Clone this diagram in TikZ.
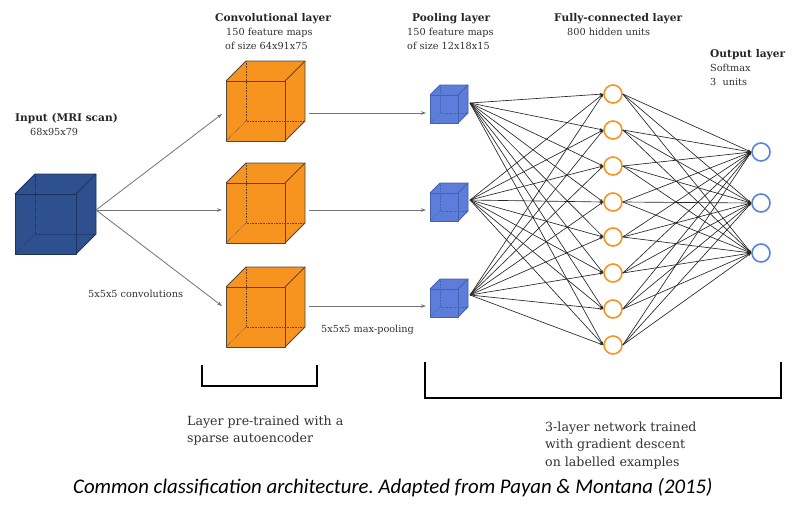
\documentclass[tikz,border=0pt]{standalone}
\usepackage{fontspec}
\setmainfont{DejaVu Serif}
\newfontfamily\capfont{Carlito}
\usetikzlibrary{arrows.meta}
\frenchspacing
\definecolor{inblue}{RGB}{46,80,142}
\definecolor{inedge}{RGB}{30,50,95}
\definecolor{convor}{RGB}{247,148,32}
\definecolor{convedge}{RGB}{80,70,60}
\definecolor{poolblue}{RGB}{92,125,218}
\definecolor{pooledge}{RGB}{70,95,175}
\definecolor{hidor}{RGB}{247,148,32}
\definecolor{outblue}{RGB}{90,130,222}
\definecolor{txtgray}{RGB}{50,50,50}
% #1 x, #2 y (front top-left), #3 w, #4 h, #5 depth, #6 fill, #7 edge
\newcommand{\drawcube}[7]{%
  \fill[#6] (#1,#2) ++(0,#4) -- ++(0,-#4) -- ++(#5,-#5) -- ++(#3,0) -- ++(0,#4) -- ++(-#5,#5) -- cycle;
  \draw[#7,densely dotted,line width=0.6pt] (#1,#2) ++(#5,-#5) -- ++(0,#4) -- ++(#3,0);
  \draw[#7,densely dotted,line width=0.6pt] (#1,#2) ++(0,#4) -- ++(#5,-#5);
  \draw[#7,line width=0.8pt,line join=round] (#1,#2) rectangle ++(#3,#4);
  \draw[#7,line width=0.8pt,line join=round] (#1,#2) -- ++(#5,-#5) -- ++(#3,0) -- ++(0,#4) -- ++(-#5,#5);
  \draw[#7,line width=0.8pt] (#1,#2) ++(#3,0) -- ++(#5,-#5);
}
\begin{document}
\begin{tikzpicture}[x=1pt,y=-1pt,
  lbl/.style={inner sep=0pt,anchor=base west,text=txtgray,font=\fontsize{9.7}{11}\selectfont},
  head/.style={inner sep=0pt,anchor=base west,text=black!85,font=\fontsize{10.6}{12}\selectfont\bfseries},
  bot/.style={inner sep=0pt,anchor=base west,text=txtgray,font=\fontsize{12.6}{14}\selectfont},
  garrow/.style={draw=black!55,line width=0.8pt,-{Stealth[length=5pt,width=3.5pt]}},
  net/.style={draw=black!85,line width=0.65pt,-{Stealth[length=3.5pt,width=2.5pt]}},
  hid/.style={circle,draw=hidor,line width=1.6pt,minimum size=18pt,inner sep=0pt},
  outn/.style={circle,draw=outblue,line width=1.6pt,minimum size=18pt,inner sep=0pt},
  brk/.style={draw=black,line width=2.2pt}]
\useasboundingbox (0,0) rectangle (799,517);
\fill[white] (0,0) rectangle (799,517);

% cubes
\drawcube{15}{194}{61}{60}{20}{inblue}{inedge}
\drawcube{226}{81}{59}{60}{20}{convor}{convedge}
\drawcube{226}{183}{59}{60}{20}{convor}{convedge}
\drawcube{226}{287}{59}{60}{20}{convor}{convedge}
\drawcube{430}{95}{28}{28}{10}{poolblue}{pooledge}
\drawcube{430}{193}{28}{28}{10}{poolblue}{pooledge}
\drawcube{430}{289}{28}{28}{10}{poolblue}{pooledge}

% connector end points
\coordinate (inR) at (96,210);
\coordinate (c1L) at (222,114);
\coordinate (c2L) at (222,210);
\coordinate (c3L) at (222,306);
\coordinate (c1R) at (309,113);
\coordinate (c2R) at (309,210);
\coordinate (c3R) at (309,306);
\coordinate (p1L) at (426,113);
\coordinate (p2L) at (426,210);
\coordinate (p3L) at (426,306);
\coordinate (p1) at (470,103);
\coordinate (p2) at (470,200);
\coordinate (p3) at (470,295);

% hidden and output units
\foreach \i/\y in {1/94,2/130,3/166,4/202,5/237,6/273,7/309,8/345}
  \node[hid] (h\i) at (613,\y) {};
\foreach \i/\y in {1/152,2/203,3/253}
  \node[outn] (o\i) at (761,\y) {};

% grey arrows
\draw[garrow] (inR) -- (c1L);
\draw[garrow] (inR) -- (c2L);
\draw[garrow] (inR) -- (c3L);
\draw[garrow] (c1R) -- (p1L);
\draw[garrow] (c2R) -- (p2L);
\draw[garrow] (c3R) -- (p3L);

% network connections
\foreach \p in {p1,p2,p3}
  \foreach \i in {1,...,8}
    \draw[net] (\p) -- (h\i.west);
\foreach \i in {1,...,8}
  \foreach \j in {1,2,3}
    \draw[net] (h\i.east) -- (o\j.west);

% labels
\node[head] (tin) at (15,121) {Input (MRI scan)};
\node[lbl] (tin2) at (30,135) {68x95x79};
\node[head] (tconv) at (215,21) {Convolutional layer};
\node[lbl] (tconv2) at (226,35) {150 feature maps};
\node[lbl] (tconv3) at (225,49) {of size 64x91x75};
\node[head] (tpool) at (412,21) {Pooling layer};
\node[lbl] (tpool2) at (407,35) {150 feature maps};
\node[lbl] (tpool3) at (407,49) {of size 12x18x15};
\node[head] (tfc) at (554,21) {Fully-connected layer};
\node[lbl] (tfc2) at (567,35) {800 hidden units};
\node[head] (tout) at (710,57) {Output layer};
\node[lbl] (tout2) at (710,71) {Softmax};
\node[lbl] (tout3) at (710,85) {3\ \ units};
\node[lbl] (tcv) at (88,297) {5x5x5 convolutions};
\node[lbl] (tmp) at (321,332) {5x5x5 max-pooling};

% brackets
\draw[brk] (202,365) -- (202,386) -- (317,386) -- (317,365);
\draw[brk] (425,362) -- (425,398) -- (781,398) -- (781,362);

\node[bot] (b1) at (187,425) {Layer pre-trained with a};
\node[bot] (b2) at (187,442) {sparse autoencoder};
\node[bot] (b3) at (545,431) {3-layer network trained};
\node[bot] (b4) at (545,448) {with gradient descent};
\node[bot] (b5) at (545,466) {on labelled examples};

\node[inner sep=0pt,anchor=base west,text=black,font=\fontsize{20.8}{22}\selectfont\capfont\itshape] (cap) at (73,493) {Common classification architecture. Adapted from Payan \& Montana (2015)};
\end{tikzpicture}
\end{document}
